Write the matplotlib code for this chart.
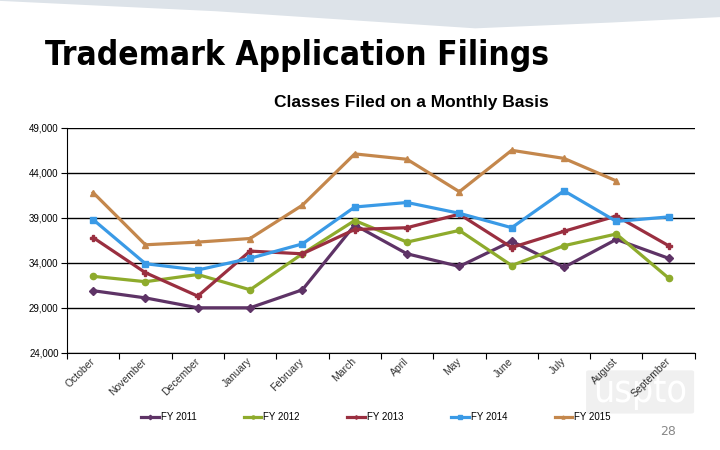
import numpy as np
import matplotlib.pyplot as plt
from matplotlib.patches import Polygon, FancyBboxPatch

months = ['October', 'November', 'December', 'January', 'February', 'March',
          'April', 'May', 'June', 'July', 'August', 'September']

fy2011 = [30900, 30100, 29000, 29000, 31000, 38200, 35000, 33600, 36400, 33500, 36600, 34500]
fy2012 = [32500, 31900, 32700, 31000, 35000, 38700, 36300, 37600, 33700, 35900, 37200, 32300]
fy2013 = [36800, 32900, 30300, 35300, 35000, 37700, 37900, 39400, 35700, 37500, 39200, 35900]
fy2014 = [38800, 33900, 33200, 34500, 36100, 40200, 40700, 39500, 37900, 42000, 38600, 39100]
fy2015 = [41800, 36000, 36300, 36700, 40400, 46100, 45500, 41900, 46500, 45600, 43100, np.nan]

series = [('FY 2011', fy2011, '#5e3366', 'D'),
          ('FY 2012', fy2012, '#8eab2c', 'o'),
          ('FY 2013', fy2013, '#9a2f40', 'P'),
          ('FY 2014', fy2014, '#3a9ae6', 's'),
          ('FY 2015', fy2015, '#c4874c', '^')]

fig = plt.figure(figsize=(7.2, 4.5), dpi=100)

# light banner at the top of the slide
banner = Polygon([[0, 1.0], [0.0, 0.998], [0.3, 0.975], [0.66, 0.937], [0.85, 0.95], [1.0, 0.962], [1.0, 1.0]],
                 closed=True, transform=fig.transFigure, facecolor='#dde3e9', edgecolor='none')
fig.patches.append(banner)

fig.text(0.062, 0.877, 'Trademark Application Filings', fontsize=24, fontweight='bold',
         family='DejaVu Sans', stretch='condensed', va='center', ha='left')
fig.text(0.571, 0.773, 'Classes Filed on a Monthly Basis', fontsize=12.5, fontweight='bold',
         family='Liberation Sans', va='center', ha='center')

# uspto watermark (behind the axes labels) and page number
wm = FancyBboxPatch((0.818, 0.085), 0.142, 0.088, boxstyle='round,pad=0.004',
                    transform=fig.transFigure, facecolor='#f0f0f0', edgecolor='none', zorder=-2)
fig.patches.append(wm)
fig.text(0.889, 0.128, 'uspto', fontsize=27, color='white', ha='center', va='center',
         family='DejaVu Sans', stretch='condensed', zorder=-1)
fig.text(0.928, 0.042, '28', fontsize=9, color='#888888', ha='center', va='center')

ax = fig.add_axes([0.093, 0.216, 0.872, 0.5])
x = np.arange(len(months))
for name, vals, col, mk in series:
    ax.plot(x, vals, color=col, lw=2.3, marker=mk, ms=4.5, mec=col, mfc=col, label=name)

ax.set_xlim(-0.5, 11.5)
ax.set_ylim(24000, 49000)
ax.set_yticks(np.arange(24000, 49001, 5000))
ax.set_yticklabels(['{:,}'.format(v) for v in range(24000, 49001, 5000)],
                   fontsize=7, family='Liberation Sans')
ax.yaxis.grid(True, color='black', lw=1)
ax.set_axisbelow(True)

ax.set_xticks(np.arange(-0.5, 12, 1))
ax.set_xticklabels([])
ax.set_xticks(x, minor=True)
ax.set_xticklabels(months, minor=True, rotation=45, ha='right', va='center',
                   rotation_mode='anchor', fontsize=7.5, family='Liberation Sans', color='#333333')
ax.tick_params(axis='x', which='minor', length=0, pad=5)
ax.tick_params(axis='x', which='major', length=4, direction='out')
ax.tick_params(axis='y', length=4, direction='out', pad=2)
for s in ['top', 'right']:
    ax.spines[s].set_visible(False)

leg = ax.legend(loc='center', bbox_to_anchor=(0.522, 0.073), bbox_transform=fig.transFigure,
                ncol=5, frameon=False, columnspacing=4.9, handlelength=1.8,
                handletextpad=0.2, markerscale=0.5, prop={'family': 'Liberation Sans', 'size': 7})

fig.savefig('out.png', dpi=100)
